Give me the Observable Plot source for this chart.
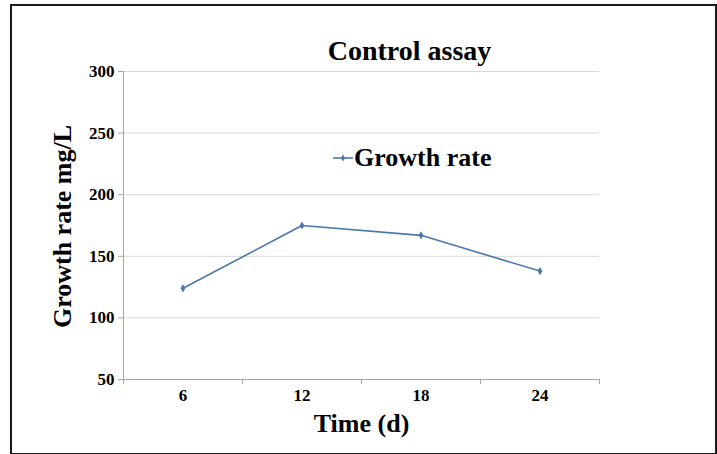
<!DOCTYPE html>
<html>
<head>
<meta charset="utf-8">
<script src="https://cdn.jsdelivr.net/npm/d3@7"></script>
<script src="https://cdn.jsdelivr.net/npm/@observablehq/plot@0.6"></script>
<style>
  html, body { margin: 0; padding: 0; background: #fff; }
  #wrap { position: relative; width: 717px; height: 454px; overflow: hidden; }
  #frame { position: absolute; left: 10px; top: 4px; width: 703px; height: 447px; border: 2px solid #1a1a1a; pointer-events: none; }
  #legend { position: absolute; left: 333px; top: 143px; font: bold 26px "Liberation Serif", "Times New Roman", serif; color: #000; white-space: nowrap; display: flex; align-items: center; }
  #legend svg { margin-right: 1px; }
</style>
</head>
<body>
<div id="wrap">
  <div id="chart"></div>
  <div id="legend"></div>
  <div id="frame"></div>
</div>
<script>
const times = [6, 12, 18, 24];
const growth = [124, 175, 167, 138];
const yTicks = [50, 100, 150, 200, 250, 300];
const xBoundaries = [3, 9, 15, 21, 27];
const seriesName = "Growth rate";
const titleText = "Control assay";
const xLabel = "Time (d)";
const yLabel = "Growth rate mg/L";
const lineColor = "#4a76ad";

const data = times.map((t, i) => ({time: t, value: growth[i]}));
const serif = "'Liberation Serif', 'Times New Roman', serif";

const chart = Plot.plot({
  width: 717,
  height: 454,
  marginLeft: 123,
  marginRight: 118,
  marginTop: 71,
  marginBottom: 75,
  style: {fontFamily: serif, background: "#fff", overflow: "visible"},
  x: {domain: [3, 27]},
  y: {domain: [50, 300]},
  marks: [
    Plot.gridY(yTicks.filter(d => d > 50), {stroke: "#d9d9d9", strokeOpacity: 1}),
    Plot.axisY(yTicks, {tickSize: 5, text: null, stroke: "#a6a6a6", label: null}),
    Plot.text(yTicks, {x: 3, y: d => d, text: d => String(d), textAnchor: "end", dx: -9, fontFamily: serif, fontSize: 17, fontWeight: "bold", fill: "#000"}),
    Plot.axisX(xBoundaries, {tickSize: 5, stroke: "#a6a6a6", text: null, label: null}),
    Plot.text(times, {x: d => d, frameAnchor: "bottom", text: d => String(d), dy: 21, fontFamily: serif, fontSize: 17, fontWeight: "bold", fill: "#000"}),
    Plot.ruleX([3], {stroke: "#a6a6a6"}),
    Plot.ruleY([50], {stroke: "#a6a6a6"}),
    Plot.line(data, {x: "time", y: "value", stroke: lineColor, strokeWidth: 1.6}),
    Plot.dot(data, {x: "time", y: "value", symbol: "diamond", r: 2.5, fill: lineColor, stroke: null}),
    Plot.text([titleText], {frameAnchor: "top", dx: 48, dy: -31, fontFamily: serif, fontSize: 28, fontWeight: "bold", fill: "#000"}),
    Plot.text([xLabel], {frameAnchor: "bottom", dy: 52, fontFamily: serif, fontSize: 26, fontWeight: "bold", fill: "#000"}),
    Plot.text([yLabel], {frameAnchor: "left", textAnchor: "middle", dx: -61, dy: 1, rotate: -90, fontFamily: serif, fontSize: 26, fontWeight: "bold", fill: "#000"})
  ]
});
document.getElementById("chart").appendChild(chart);

// legend
const legend = document.getElementById("legend");
const sw = d3.create("svg").attr("width", 20).attr("height", 10);
sw.append("line").attr("x1", 0).attr("x2", 20).attr("y1", 5).attr("y2", 5).attr("stroke", lineColor).attr("stroke-width", 1.6);
sw.append("path").attr("d", d3.symbol(d3.symbolDiamond, 14)()).attr("transform", "translate(10,5)").attr("fill", lineColor);
legend.appendChild(sw.node());
const lt = document.createElement("span");
lt.textContent = seriesName;
legend.appendChild(lt);
</script>
</body>
</html>
